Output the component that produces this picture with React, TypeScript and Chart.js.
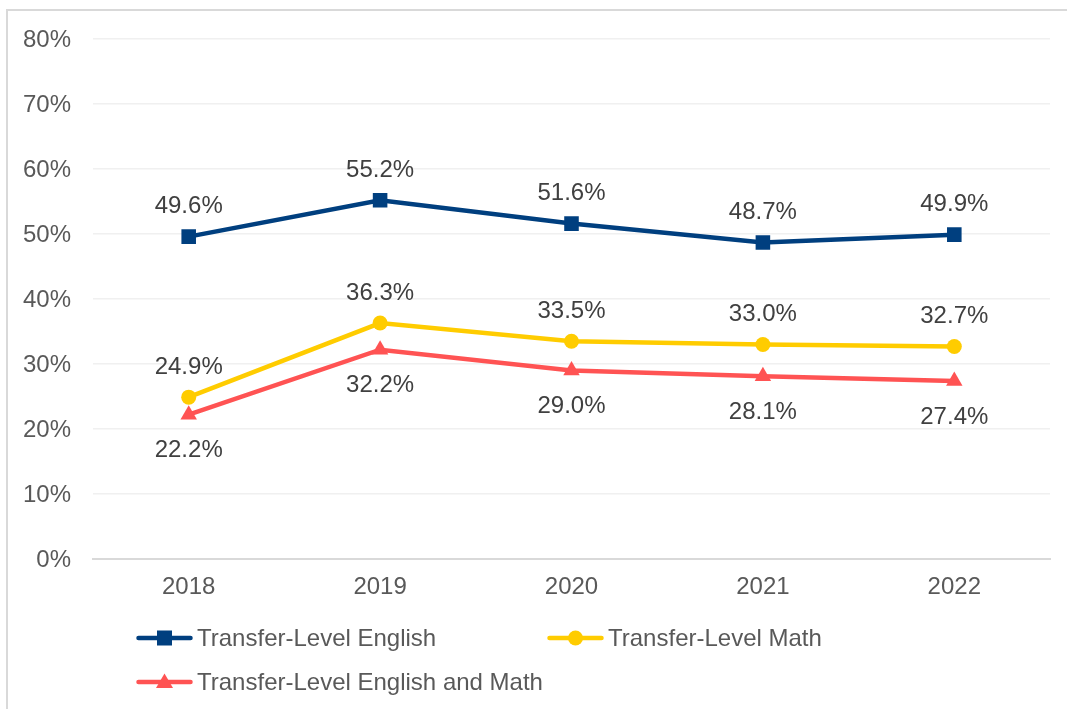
import React, { useEffect, useRef } from "react";
import { Chart, registerables } from "chart.js";

Chart.register(...registerables);

const years = ["2018", "2019", "2020", "2021", "2022"];
const englishValues = [49.6, 55.2, 51.6, 48.7, 49.9];
const mathValues = [24.9, 36.3, 33.5, 33.0, 32.7];
const bothValues = [22.2, 32.2, 29.0, 28.1, 27.4];
const seriesNames = [
  "Transfer-Level English",
  "Transfer-Level Math",
  "Transfer-Level English and Math",
];
const seriesColors = ["#003F7F", "#FFCC00", "#FF5353"];
const yMin = 0;
const yMax = 80;
const yStep = 10;

const FONT = '"Liberation Sans", Arial, Helvetica, sans-serif';
const FS = 24;

const labelPlugin = {
  id: "pointValueLabels",
  afterDatasetsDraw(chart: any) {
    const ctx = chart.ctx;
    ctx.save();
    ctx.font = `${FS}px ${FONT}`;
    ctx.fillStyle = "#404040";
    ctx.textAlign = "center";
    ctx.textBaseline = "middle";
    chart.data.datasets.forEach((ds: any, i: number) => {
      const meta = chart.getDatasetMeta(i);
      meta.data.forEach((pt: any, j: number) => {
        ctx.fillText(ds.data[j].toFixed(1) + "%", pt.x, pt.y + ds.labelOffset);
      });
    });
    ctx.restore();
  },
};

function Marker({ kind, color }: { kind: string; color: string }) {
  let shape: any = null;
  if (kind === "rect") shape = <rect x={21} y={2.5} width={15} height={15} fill={color} />;
  else if (kind === "circle") shape = <circle cx={28.5} cy={10} r={7.5} fill={color} />;
  else shape = <polygon points="28.5,1.5 37,16 20,16" fill={color} />;
  return (
    <svg width={57} height={20} style={{ display: "block" }}>
      <line x1={2.5} y1={10} x2={54.5} y2={10} stroke={color} strokeWidth={4.5} strokeLinecap="round" />
      {shape}
    </svg>
  );
}

export default function App() {
  const ref = useRef<HTMLCanvasElement | null>(null);

  useEffect(() => {
    if (!ref.current) return;
    const chart = new Chart(ref.current, {
      type: "line",
      data: {
        labels: years,
        datasets: [
          {
            label: seriesNames[0],
            data: englishValues,
            borderColor: seriesColors[0],
            backgroundColor: seriesColors[0],
            borderWidth: 4.5,
            pointStyle: "rect",
            pointRadius: 10.3,
            pointBorderWidth: 0,
            labelOffset: -30,
            order: 3,
          } as any,
          {
            label: seriesNames[1],
            data: mathValues,
            borderColor: seriesColors[1],
            backgroundColor: seriesColors[1],
            borderWidth: 4.5,
            pointStyle: "circle",
            pointRadius: 7.5,
            pointBorderWidth: 0,
            labelOffset: -30,
            order: 2,
          } as any,
          {
            label: seriesNames[2],
            data: bothValues,
            borderColor: seriesColors[2],
            backgroundColor: seriesColors[2],
            borderWidth: 4.5,
            pointStyle: "triangle",
            pointRadius: 9.5,
            pointBorderWidth: 0,
            labelOffset: 36,
            order: 1,
          } as any,
        ],
      },
      options: {
        animation: false,
        responsive: false,
        maintainAspectRatio: false,
        layout: { padding: { left: 0, right: 17, top: 39, bottom: 0 } },
        plugins: {
          legend: { display: false },
          tooltip: { enabled: false },
        },
        scales: {
          x: {
            offset: true,
            grid: { display: false, drawTicks: false },
            border: { display: true, color: "#D9D9D9", width: 2 },
            ticks: {
              color: "#595959",
              font: { family: FONT, size: FS },
              padding: 14,
            },
            afterFit: (s: any) => {
              s.height = 150;
            },
          },
          y: {
            min: yMin,
            max: yMax,
            ticks: {
              stepSize: yStep,
              color: "#595959",
              font: { family: FONT, size: FS },
              padding: 22,
              labelOffset: 1,
              callback: (v: any) => `${v}%`,
            },
            grid: { color: "#F0F0F0", lineWidth: 1.5, drawTicks: false },
            border: { display: false },
            afterFit: (s: any) => {
              s.width = 93;
            },
          },
        },
      },
      plugins: [labelPlugin],
    });
    return () => chart.destroy();
  }, []);

  const legendItems = [
    { i: 0, kind: "rect", left: 136, cy: 638 },
    { i: 1, kind: "circle", left: 547, cy: 638 },
    { i: 2, kind: "triangle", left: 136, cy: 682 },
  ];

  return (
    <div style={{ position: "absolute", left: 0, top: 0, width: 1067, height: 709, overflow: "hidden", background: "#fff" }}>
      <div
        style={{
          position: "absolute",
          left: 6,
          top: 9,
          width: 1061,
          height: 700,
          borderLeft: "2px solid #D9D9D9",
          borderTop: "2px solid #D9D9D9",
          boxSizing: "border-box",
        }}
      />
      <canvas ref={ref} width={1067} height={709} style={{ position: "absolute", left: 0, top: 0, width: 1067, height: 709 }} />
      {legendItems.map((it) => (
        <div
          key={it.i}
          style={{
            position: "absolute",
            left: it.left,
            top: it.cy - 15,
            height: 30,
            display: "flex",
            alignItems: "center",
            fontFamily: FONT,
            fontSize: FS,
            color: "#595959",
            whiteSpace: "nowrap",
          }}
        >
          <Marker kind={it.kind} color={seriesColors[it.i]} />
          <span style={{ marginLeft: 4 }}>{seriesNames[it.i]}</span>
        </div>
      ))}
    </div>
  );
}
